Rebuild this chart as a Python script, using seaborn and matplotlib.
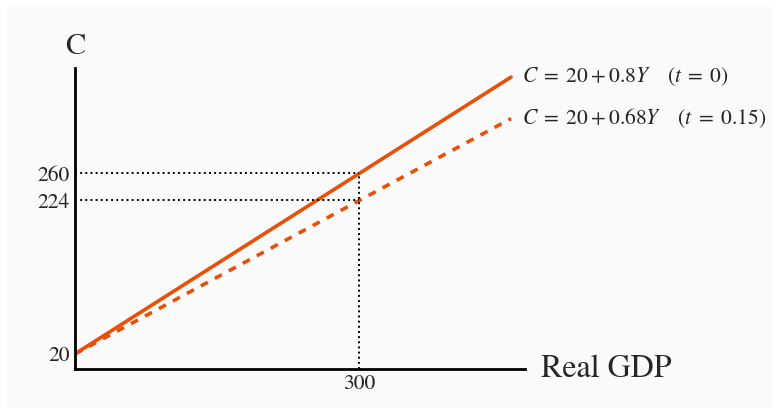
import seaborn as sns
import matplotlib.pyplot as plt
import pandas as pd

# data
income = [0, 460]
cons_no_tax = [20, 388]
cons_tax = [20, 332.8]
y_ticks = [20, 224, 260]
x_ticks = [300]
label_no_tax = r'$C\;=\;20+0.8Y \quad\; (t\;=\;0)$'
label_tax = r'$C\;=\;20+0.68Y \quad\; (t\;=\;0.15)$'

sns.set_style('white')
plt.rcParams['font.family'] = ['STIXGeneral', 'DejaVu Serif']
plt.rcParams['mathtext.fontset'] = 'stix'

orange = '#e8500a'
bg = '#fafafa'

fig = plt.figure(figsize=(7.79, 4.15), dpi=100, facecolor='white')
fig.patches.append(plt.Rectangle((0.009, 0.017), 0.982, 0.966, transform=fig.transFigure,
                                 facecolor=bg, edgecolor='none', zorder=-10))
ax = fig.add_axes([0.0963, 0.111, 0.578, 0.725])
ax.set_facecolor(bg)

df = pd.DataFrame({'Y': income, 'no_tax': cons_no_tax, 'tax': cons_tax})
sns.lineplot(data=df, x='Y', y='no_tax', color=orange, lw=2.6, ax=ax)
sns.lineplot(data=df, x='Y', y='tax', color=orange, lw=2.6, ax=ax, linestyle=(0, (2.2, 2.2)))

# dotted guides
ax.plot([0, x_ticks[0]], [y_ticks[2], y_ticks[2]], color='black', ls=':', lw=1.4)
ax.plot([0, x_ticks[0]], [y_ticks[1], y_ticks[1]], color='black', ls=':', lw=1.4)
ax.plot([x_ticks[0], x_ticks[0]], [0, y_ticks[2]], color='black', ls=':', lw=1.4)

ax.set_xlim(0, 475)
ax.set_ylim(0, 400)
ax.set_xticks(x_ticks)
ax.set_yticks(y_ticks)
ax.tick_params(length=0, labelsize=15.5, pad=4)
ax.set_xlabel('')
ax.set_ylabel('')
sns.despine(ax=ax)
for s in ['left', 'bottom']:
    ax.spines[s].set_color('black')
    ax.spines[s].set_linewidth(2)

ax.text(income[1] + 12, cons_no_tax[1], label_no_tax, fontsize=15.5, va='center', ha='left', clip_on=False)
ax.text(income[1] + 12, cons_tax[1], label_tax, fontsize=15.5, va='center', ha='left', clip_on=False)
ax.text(0, 410, 'C', fontsize=22, ha='center', va='bottom', clip_on=False)
ax.text(492, 0, 'Real GDP', fontsize=23, ha='left', va='center', clip_on=False)

fig.savefig('out.png', dpi=100, facecolor='white')
